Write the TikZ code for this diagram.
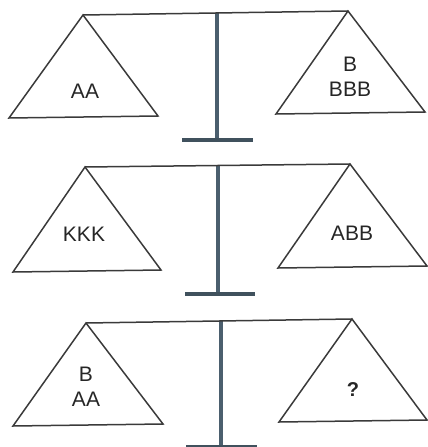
\documentclass[tikz,border=0pt]{standalone}
\usepackage{fontspec}
\setmainfont{Liberation Sans}
\definecolor{linec}{HTML}{3A3A3A}
\definecolor{postc}{HTML}{4B5F6E}
\begin{document}
\begin{tikzpicture}[x=1pt,y=-1pt,
  beam/.style={draw=linec,line width=1.5pt},
  pan/.style={draw=linec,line width=1.5pt,line join=miter},
  post/.style={draw=postc,line width=4pt},
  foot/.style={draw=postc!85!black,line width=4pt},
  lbl/.style={font=\fontsize{21}{25}\selectfont,text=black!85,align=center,inner sep=0pt}]
\useasboundingbox (0,0) rectangle (428,447);
% ---------- scale 1 ----------
\coordinate (a1l) at (83,15);
\coordinate (a1r) at (348,11);
\coordinate (b1l1) at (9,118);
\coordinate (b1l2) at (158,116);
\coordinate (b1r1) at (276,114);
\coordinate (b1r2) at (425,112);
\coordinate (p1t) at (217,13);
\coordinate (p1b) at (217,140);
\coordinate (f1l) at (182,140);
\coordinate (f1r) at (253,140);
\draw[post] (p1t) -- (p1b);
\draw[foot] (f1l) -- (f1r);
\draw[beam] (a1l) -- (a1r);
\draw[pan] (a1l) -- (b1l1) -- (b1l2) -- cycle;
\draw[pan] (a1r) -- (b1r1) -- (b1r2) -- cycle;
\node[lbl] (t1l) at (85,91) {AA};
\node[lbl] (t1r) at (350,77) {B\\BBB};
% ---------- scale 2 ----------
\coordinate (a2l) at (85,167);
\coordinate (a2r) at (350,164);
\coordinate (b2l1) at (13,272);
\coordinate (b2l2) at (161,270);
\coordinate (b2r1) at (278,268);
\coordinate (b2r2) at (427,266);
\coordinate (p2t) at (218,166);
\coordinate (p2b) at (218,294);
\coordinate (f2l) at (185,294);
\coordinate (f2r) at (255,294);
\draw[post] (p2t) -- (p2b);
\draw[foot] (f2l) -- (f2r);
\draw[beam] (a2l) -- (a2r);
\draw[pan] (a2l) -- (b2l1) -- (b2l2) -- cycle;
\draw[pan] (a2r) -- (b2r1) -- (b2r2) -- cycle;
\node[lbl] (t2l) at (84,234) {KKK};
\node[lbl] (t2r) at (352,233) {ABB};
% ---------- scale 3 ----------
\coordinate (a3l) at (86,323);
\coordinate (a3r) at (352,319);
\coordinate (b3l1) at (13,426);
\coordinate (b3l2) at (163,424);
\coordinate (b3r1) at (279,422);
\coordinate (b3r2) at (427,420);
\coordinate (p3t) at (221,321);
\coordinate (p3b) at (221,447);
\coordinate (f3l) at (186,447);
\coordinate (f3r) at (257,447);
\draw[post] (p3t) -- (p3b);
\draw[foot] (f3l) -- (f3r);
\draw[beam] (a3l) -- (a3r);
\draw[pan] (a3l) -- (b3l1) -- (b3l2) -- cycle;
\draw[pan] (a3r) -- (b3r1) -- (b3r2) -- cycle;
\node[lbl] (t3l) at (86,387) {B\\AA};
\node[lbl,font=\fontsize{20}{24}\bfseries] (t3r) at (353,390) {?};
\end{tikzpicture}
\end{document}
